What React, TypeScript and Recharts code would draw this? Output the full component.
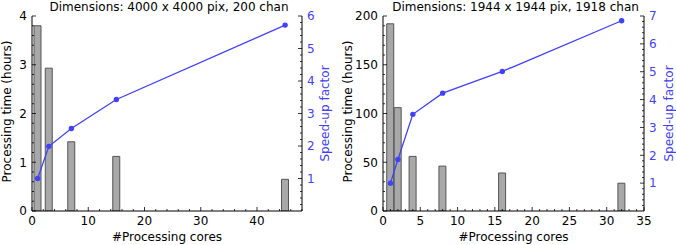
import React from 'react';
import { ComposedChart, Bar, Line, XAxis, YAxis, Label } from 'recharts';

// left panel: 4000 x 4000 pix, 200 chan
const coresA = [1, 3, 7, 15, 45];
const hoursA = [3.8, 2.93, 1.42, 1.12, 0.65];
const speedupA = [1.0, 1.99, 2.54, 3.43, 5.72];

// right panel: 1944 x 1944 pix, 1918 chan
const coresB = [1, 2, 4, 8, 16, 32];
const hoursB = [192, 106, 56, 46, 39, 28.5];
const speedupB = [1.0, 1.85, 3.47, 4.23, 5.01, 6.83];

const xTicksA = [0, 10, 20, 30, 40];
const hTicksA = [0, 1, 2, 3, 4];
const sTicksA = [1, 2, 3, 4, 5, 6];

const xTicksB = [0, 5, 10, 15, 20, 25, 30, 35];
const hTicksB = [0, 50, 100, 150, 200];
const sTicksB = [1, 2, 3, 4, 5, 6, 7];

const FONT = '"DejaVu Sans", sans-serif';
const FS = 12;
const BLUE = '#4040ff';

// major ticks plus minor ticks in between, up to max
const withMinor = (major: number[], step: number, max: number) => {
  const out: number[] = [];
  for (let i = 0; i * step <= max + 1e-9; i++) out.push(+(i * step).toFixed(4));
  major.forEach((m) => { if (!out.some((v) => Math.abs(v - m) < 1e-6)) out.push(m); });
  return out.sort((a, b) => a - b);
};

const isMajor = (v: number, major: number[]) => major.some((m) => Math.abs(m - v) < 1e-6);

const XTick = (props: any) => {
  const { x, y, payload, major, top } = props;
  const big = isMajor(payload.value, major);
  const len = big ? 4 : 2;
  return (
    <g>
      <line x1={x} x2={x} y1={y} y2={top ? y + len : y - len} stroke="#000" strokeWidth={0.8} />
      {big && !top && (
        <text x={x} y={y + 14} textAnchor="middle" fontFamily={FONT} fontSize={FS} fill="#000">
          {payload.value}
        </text>
      )}
    </g>
  );
};

const YTick = (props: any) => {
  const { x, y, payload, major, right, color } = props;
  const big = isMajor(payload.value, major);
  const len = big ? 4 : 2;
  return (
    <g>
      <line x1={x} x2={right ? x - len : x + len} y1={y} y2={y} stroke="#000" strokeWidth={0.8} />
      {big && (
        <text
          x={right ? x + 5 : x - 5}
          y={y + 4.3}
          textAnchor={right ? 'start' : 'end'}
          fontFamily={FONT}
          fontSize={FS}
          fill={color}
        >
          {payload.value}
        </text>
      )}
    </g>
  );
};

interface PanelProps {
  title: string;
  cores: number[];
  hours: number[];
  speedup: number[];
  xMax: number;
  xTicks: number[];
  xStep: number;
  hMax: number;
  hTicks: number[];
  hStep: number;
  sMax: number;
  sTicks: number[];
  sStep: number;
  leftW: number;
  rightW: number;
  barSize: number;
  leftLabelX: number;
  rightLabelX: number;
}

const Panel = (p: PanelProps) => {
  const data = p.cores.map((c, i) => ({ cores: c, hours: p.hours[i], speedup: p.speedup[i] }));
  const xAll = withMinor(p.xTicks, p.xStep, p.xMax);
  const hAll = withMinor(p.hTicks, p.hStep, p.hMax);
  const sAll = withMinor(p.sTicks, p.sStep, p.sMax).filter((v) => v > 0);

  return (
    <ComposedChart width={338} height={245} data={data} margin={{ top: 16, right: 0, bottom: 0, left: 0 }}>
      <XAxis
        dataKey="cores"
        type="number"
        domain={[0, p.xMax]}
        ticks={xAll}
        interval={0}
        height={34}
        tickSize={0}
        tickMargin={0}
        tickLine={false}
        axisLine={{ stroke: '#000' }}
        tick={(t: any) => <XTick {...t} major={p.xTicks} />}
        allowDataOverflow
      >
        <Label
          content={(l: any) => {
            const vb = l.viewBox;
            const cx = vb.x + vb.width / 2;
            return (
              <g>
                <text x={cx} y={vb.y + 29.5} textAnchor="middle" fontFamily={FONT} fontSize={FS} fill="#000">
                  #Processing cores
                </text>
                <text x={cx + 2} y={10.5} textAnchor="middle" fontFamily={FONT} fontSize={FS} fill="#000">
                  {p.title}
                </text>
              </g>
            );
          }}
        />
      </XAxis>
      <XAxis
        xAxisId="top"
        dataKey="cores"
        orientation="top"
        type="number"
        domain={[0, p.xMax]}
        ticks={xAll}
        interval={0}
        height={0}
        tickSize={0}
        tickMargin={0}
        tickLine={false}
        axisLine={{ stroke: '#000' }}
        tick={(t: any) => <XTick {...t} major={p.xTicks} top />}
        allowDataOverflow
      />
      <YAxis
        yAxisId="h"
        orientation="left"
        type="number"
        domain={[0, p.hMax]}
        ticks={hAll}
        interval={0}
        width={p.leftW}
        tickSize={0}
        tickMargin={0}
        tickLine={false}
        axisLine={{ stroke: '#000' }}
        tick={(t: any) => <YTick {...t} major={p.hTicks} color="#000" />}
        allowDataOverflow
      >
        <Label
          content={(l: any) => {
            const vb = l.viewBox;
            const cx = p.leftLabelX;
            const cy = vb.y + vb.height / 2 - 2;
            return (
              <text x={cx} y={cy} transform={`rotate(-90 ${cx} ${cy})`} textAnchor="middle" fontFamily={FONT} fontSize={FS} fill="#000">
                Processing time (hours)
              </text>
            );
          }}
        />
      </YAxis>
      <YAxis
        yAxisId="s"
        orientation="right"
        type="number"
        domain={[0, p.sMax]}
        ticks={sAll}
        interval={0}
        width={p.rightW}
        tickSize={0}
        tickMargin={0}
        tickLine={false}
        axisLine={{ stroke: '#000' }}
        tick={(t: any) => <YTick {...t} major={p.sTicks} right color={BLUE} />}
        allowDataOverflow
      >
        <Label
          content={(l: any) => {
            const vb = l.viewBox;
            const cx = p.rightLabelX;
            const cy = vb.y + vb.height / 2;
            return (
              <text x={cx} y={cy} transform={`rotate(-90 ${cx} ${cy})`} textAnchor="middle" fontFamily={FONT} fontSize={FS} fill={BLUE}>
                Speed-up factor
              </text>
            );
          }}
        />
      </YAxis>
      <Bar
        yAxisId="h"
        dataKey="hours"
        barSize={p.barSize}
        fill="#a8a8a8"
        stroke="#555555"
        strokeWidth={1}
        isAnimationActive={false}
      />
      <Line
        yAxisId="s"
        dataKey="speedup"
        type="linear"
        stroke={BLUE}
        strokeWidth={1.3}
        dot={{ r: 2.7, fill: BLUE, stroke: BLUE, strokeWidth: 0 }}
        activeDot={false}
        isAnimationActive={false}
      />
    </ComposedChart>
  );
};

export default function App() {
  return (
    <div style={{ position: 'absolute', left: 0, top: 0, width: 676, height: 245, display: 'flex', background: '#fff' }}>
      <Panel
        title="Dimensions: 4000 x 4000 pix, 200 chan"
        cores={coresA}
        hours={hoursA}
        speedup={speedupA}
        xMax={48}
        xTicks={xTicksA}
        xStep={2}
        hMax={4}
        hTicks={hTicksA}
        hStep={0.2}
        sMax={6}
        sTicks={sTicksA}
        sStep={0.2}
        leftW={32}
        rightW={36}
        barSize={7}
        leftLabelX={11}
        rightLabelX={329}
      />
      <Panel
        title="Dimensions: 1944 x 1944 pix, 1918 chan"
        cores={coresB}
        hours={hoursB}
        speedup={speedupB}
        xMax={35}
        xTicks={xTicksB}
        xStep={1}
        hMax={200}
        hTicks={hTicksB}
        hStep={10}
        sMax={7}
        sTicks={sTicksB}
        sStep={0.2}
        leftW={45}
        rightW={32}
        barSize={7}
        leftLabelX={13.5}
        rightLabelX={335}
      />
    </div>
  );
}
